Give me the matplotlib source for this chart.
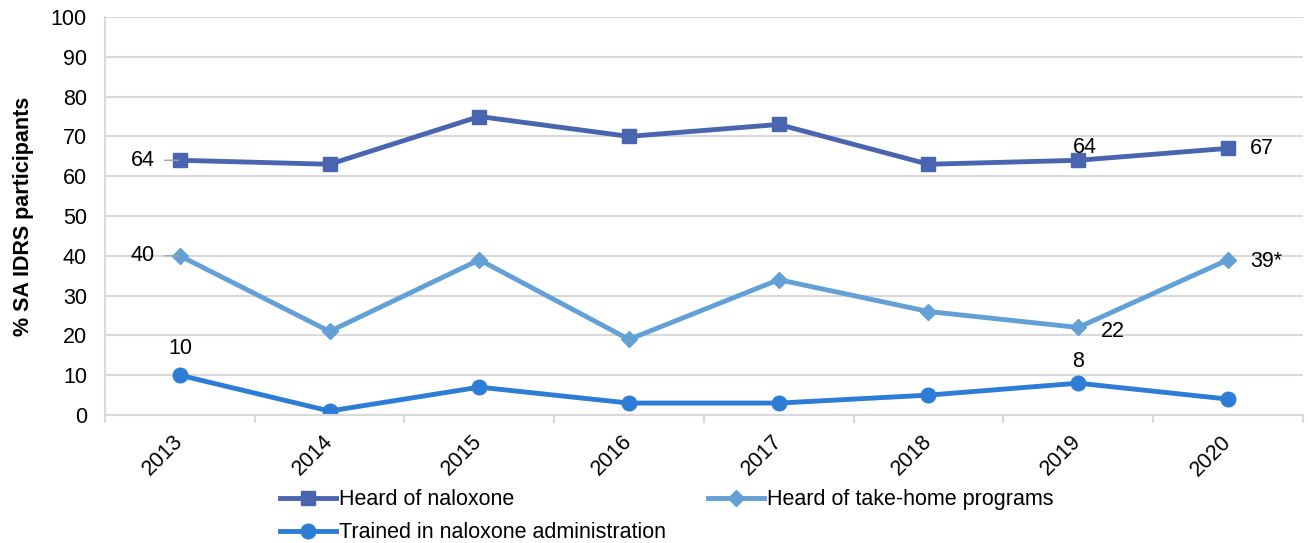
import matplotlib.pyplot as plt
import numpy as np

plt.rcParams['font.family'] = ['Liberation Sans', 'DejaVu Sans']

years = ['2013', '2014', '2015', '2016', '2017', '2018', '2019', '2020']
heard_naloxone = [64, 63, 75, 70, 73, 63, 64, 67]
heard_takehome = [40, 21, 39, 19, 34, 26, 22, 39]
trained = [10, 1, 7, 3, 3, 5, 8, 4]

c_heard = '#4a65b0'
c_take = '#62a0d6'
c_train = '#2d7dd6'

fig = plt.figure(figsize=(13.08, 5.43), dpi=100)
ax = fig.add_axes([0.0803, 0.2357, 0.9157, 0.733])

x = np.arange(len(years))
l1, = ax.plot(x, heard_naloxone, color=c_heard, lw=3.5, marker='s', ms=10, label='Heard of naloxone')
l2, = ax.plot(x, heard_takehome, color=c_take, lw=3.5, marker='D', ms=8.5, label='Heard of take-home programs')
l3, = ax.plot(x, trained, color=c_train, lw=3.5, marker='o', ms=10.5, label='Trained in naloxone administration')

fs = 15.5
ax.set_xlim(-0.5, len(years) - 0.5)
ax.set_ylim(0, 100)
ax.set_yticks(range(0, 101, 10))
ax.tick_params(axis='y', length=0, labelsize=fs, pad=13)
ax.set_xticks(x)
ax.set_xticklabels(years, rotation=45, ha='right', va='center', rotation_mode='anchor', fontsize=fs)
ax.tick_params(axis='x', length=0, pad=17)
ax.set_xticks(np.arange(-0.5, len(years)), minor=True)
ax.tick_params(axis='x', which='minor', length=6, color='#d9d9d9', width=1.5)
ax.grid(axis='y', color='#d9d9d9', lw=1.5)
ax.set_axisbelow(True)
for s in ['top', 'right']:
    ax.spines[s].set_visible(False)
for s in ['left', 'bottom']:
    ax.spines[s].set_color('#d9d9d9')
    ax.spines[s].set_linewidth(1.5)

ax.set_ylabel('% SA IDRS participants', fontsize=fs, fontweight='bold', labelpad=12)

lead = dict(arrowstyle='-', color='#a0a0a0', lw=1, shrinkA=5, shrinkB=1)
ax.annotate(str(heard_naloxone[0]), (x[0], heard_naloxone[0]), xytext=(-18, 0), textcoords='offset points',
            ha='right', va='center', fontsize=fs, arrowprops=lead)
ax.annotate(str(heard_takehome[0]), (x[0], heard_takehome[0]), xytext=(-18, 0), textcoords='offset points',
            ha='right', va='center', fontsize=fs, arrowprops=lead)
ax.annotate(str(trained[0]), (x[0], trained[0]), xytext=(0, 12), textcoords='offset points',
            ha='center', va='bottom', fontsize=fs)
ax.annotate(str(heard_naloxone[6]), (x[6], heard_naloxone[6]), xytext=(5, 2), textcoords='offset points',
            ha='center', va='bottom', fontsize=fs)
ax.annotate(str(heard_takehome[6]), (x[6], heard_takehome[6]), xytext=(16, -3), textcoords='offset points',
            ha='left', va='center', fontsize=fs)
ax.annotate(str(trained[6]), (x[6], trained[6]), xytext=(0, 8), textcoords='offset points',
            ha='center', va='bottom', fontsize=fs)
ax.annotate(str(heard_naloxone[7]), (x[7], heard_naloxone[7]), xytext=(16, 0), textcoords='offset points',
            ha='left', va='center', fontsize=fs)
ax.annotate(str(heard_takehome[7]) + '*', (x[7], heard_takehome[7]), xytext=(16, -1), textcoords='offset points',
            ha='left', va='center', fontsize=fs)

fig.legend(handles=[l1, l3, l2], loc='upper left', bbox_to_anchor=(0.214, 0.099), ncol=2, frameon=False,
           fontsize=fs, handlelength=2.6, handletextpad=0.15, columnspacing=1.95, labelspacing=0.55,
           borderaxespad=0, borderpad=0)

fig.savefig('out.png', dpi=100)
